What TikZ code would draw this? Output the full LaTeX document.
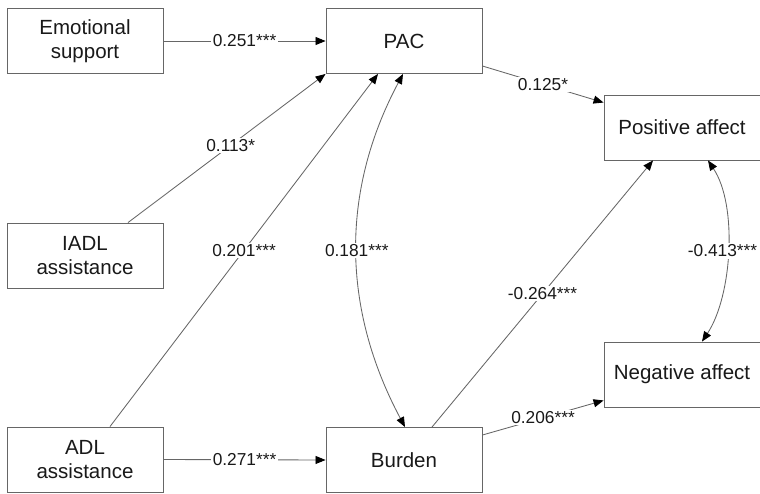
\documentclass[tikz,border=0pt]{standalone}
\usepackage{fontspec}
\setmainfont{Liberation Sans}
\usetikzlibrary{arrows.meta}
\begin{document}
\begin{tikzpicture}[x=1pt,y=-1pt,
  box/.style={draw=black!60, line width=0.9pt, fill=white, minimum width=156pt, minimum height=65pt,
    align=center, inner sep=2pt, text=black!90, font=\fontsize{20.5}{24.5}\selectfont},
  conn/.style={draw=black!60, line width=0.85pt, -{Triangle[length=10pt,width=8pt,color=black]}},
  dconn/.style={draw=black!60, line width=0.85pt, {Triangle[length=10pt,width=8pt,color=black]}-{Triangle[length=10pt,width=8pt,color=black]}},
  lab/.style={fill=white, inner sep=1.5pt, text=black!90, font=\fontsize{17.3}{20}\selectfont}]
\useasboundingbox (0,0) rectangle (760,493);
\node[box] (es) at (85,41) {Emotional\\support};
\node[box] (pac) at (404,41) {PAC};
\node[box] (pos) at (682,127.5) {Positive affect};
\node[box] (iadl) at (85,255.5) {IADL\\assistance};
\node[box] (neg) at (682,374.5) {Negative affect};
\node[box] (adl) at (85,459.5) {ADL\\assistance};
\node[box] (bur) at (404,460) {Burden};

\draw[conn] (es.east) -- node[lab,pos=0.5] {0.251***} (pac.west);
\draw[conn] (adl.east) -- node[lab,pos=0.5] {0.271***} (bur.west);
\draw[conn] ([xshift=43pt]iadl.north) -- node[lab,pos=0.52] {0.113*} (pac.south west);
\draw[conn] ([xshift=25pt]adl.north) -- node[lab,pos=0.5] {0.201***} ([xshift=-26pt]pac.south);
\draw[dconn] ([xshift=-1pt]pac.south) .. controls +(-63,118) and +(-63,-118) .. node[lab,pos=0.5] {0.181***} ([xshift=1pt]bur.north);
\draw[conn] ([yshift=-25pt]pac.east) -- node[lab,pos=0.5] {0.125*} ([yshift=-8pt]pos.north west);
\draw[conn] ([xshift=28pt]bur.north) -- node[lab,pos=0.5] {-0.264***} ([xshift=-29pt]pos.south);
\draw[conn] ([yshift=25pt]bur.east) -- node[lab,pos=0.5] {0.206***} ([yshift=7pt]neg.south west);
\draw[dconn] ([xshift=26pt]pos.south) .. controls +(30,45) and +(30,-45) .. node[lab,pos=0.5,xshift=-5pt] {-0.413***} ([xshift=20pt]neg.north);
\end{tikzpicture}
\end{document}
